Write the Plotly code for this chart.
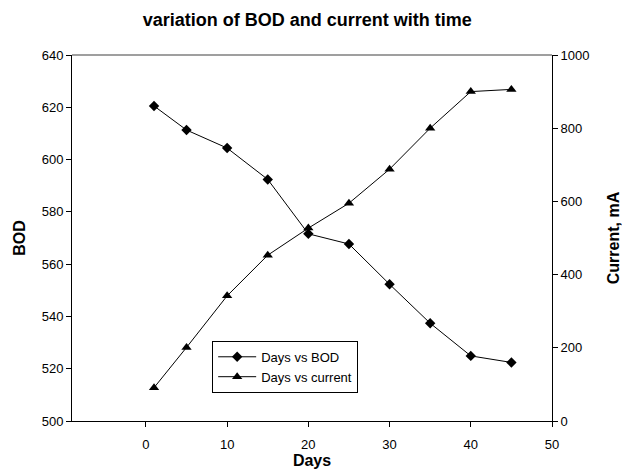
import plotly.graph_objects as go

days = [1, 5, 10, 15, 20, 25, 30, 35, 40, 45]
bod = [620.5, 611.3, 604.4, 592.4, 571.6, 567.7, 552.3, 537.4, 524.9, 522.4]
current = [91, 201, 342, 453, 527, 595, 688, 800, 900, 906]

x_ticks = [0, 10, 20, 30, 40, 50]
bod_ticks = [500, 520, 540, 560, 580, 600, 620, 640]
cur_ticks = [0, 200, 400, 600, 800, 1000]

FONT = "Liberation Sans, Arial, sans-serif"

fig = go.Figure()
fig.add_trace(go.Scatter(
    x=days, y=bod, name="Days vs BOD", mode="lines+markers",
    line=dict(color="black", width=1),
    marker=dict(symbol="diamond", size=8, color="black"),
    yaxis="y"))
fig.add_trace(go.Scatter(
    x=days, y=current, name="Days vs current", mode="lines+markers",
    line=dict(color="black", width=1),
    marker=dict(symbol="triangle-up", size=9, color="black"),
    yaxis="y2"))

fig.update_layout(
    width=622, height=472,
    margin=dict(l=72, r=70, t=55, b=51),
    paper_bgcolor="white", plot_bgcolor="white",
    font=dict(family=FONT, size=13, color="black"),
    title=dict(text="<b>variation of BOD and current with time</b>",
               x=0.494, xanchor="center", y=0.958, yanchor="middle",
               font=dict(size=18, family=FONT, color="black")),
    xaxis=dict(range=[-9.1, 50], tickvals=x_ticks, showgrid=False, zeroline=False,
               showline=True, linecolor="black", linewidth=1, automargin=False,
               ticks="outside", ticklen=5, tickcolor="black", ticklabelstandoff=6,
               tickfont=dict(size=13),
               title=dict(text="<b>Days</b>", font=dict(size=16), standoff=4)),
    yaxis=dict(range=[500, 640], tickvals=bod_ticks, showgrid=False, zeroline=False,
               showline=True, linecolor="black", linewidth=1, automargin=False,
               ticks="outside", ticklen=5, tickcolor="black",
               tickfont=dict(size=13),
               title=dict(text="<b>BOD</b>", font=dict(size=16), standoff=12)),
    yaxis2=dict(range=[0, 1000], tickvals=cur_ticks, overlaying="y", side="right",
                showgrid=False, zeroline=False, automargin=False,
                showline=True, linecolor="black", linewidth=1,
                ticks="outside", ticklen=5, tickcolor="black",
                tickfont=dict(size=13),
                title=dict(text="<b>Current, mA</b>", font=dict(size=16), standoff=19)),
    legend=dict(x=0.292, y=0.219, xanchor="left", yanchor="top",
                bordercolor="black", borderwidth=1, bgcolor="white",
                font=dict(size=13), tracegroupgap=0, itemwidth=38),
    showlegend=True,
    shapes=[dict(type="line", xref="paper", yref="paper", x0=0, x1=1, y0=1, y1=1,
                 line=dict(color="#7f7f7f", width=1.5))],
)

fig.write_html("out.html")
